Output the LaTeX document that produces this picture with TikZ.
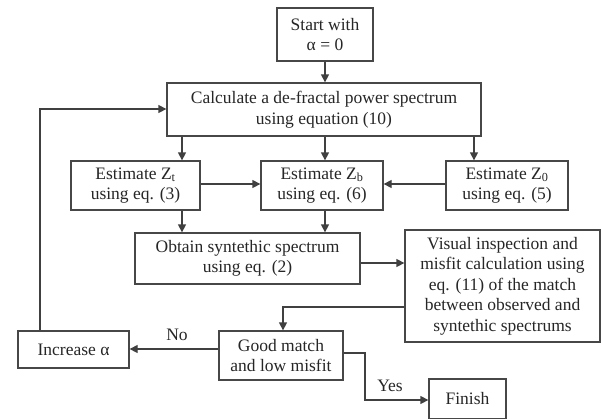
\documentclass[tikz,border=0pt]{standalone}
\usepackage{fontspec}
\setmainfont{Liberation Serif}
\usetikzlibrary{arrows.meta}
\begin{document}
\begin{tikzpicture}[x=1pt,y=-1pt,
  box/.style={draw=black!72, line width=1.3pt, inner sep=0pt, align=center,
    text=black!85, font=\fontsize{17.5}{20.5}\selectfont},
  lbl/.style={inner sep=0pt, text=black!85, font=\fontsize{17.5}{20.5}\selectfont},
  arr/.style={draw=black!75, line width=1.3pt, -{Triangle[length=8pt,width=8pt]}}]
\useasboundingbox (0,0) rectangle (601,418);
\fill[white] (0,0) rectangle (601,418);

\node[box, minimum width=96pt, minimum height=53pt] (start) at (325,34.5) {Start with\\α = 0};
\node[box, minimum width=314pt, minimum height=53pt] (calc) at (324,109.5) {Calculate a de-fractal power spectrum\\using equation (10)};
\node[box, minimum width=129pt, minimum height=49pt] (zt) at (135.5,185.5) {Estimate Z\textsubscript{t}\\using eq. (3)};
\node[box, minimum width=122pt, minimum height=49pt] (zb) at (322,185.5) {Estimate Z\textsubscript{b}\\using eq. (6)};
\node[box, minimum width=122pt, minimum height=49pt] (z0) at (507,185.5) {Estimate Z\textsubscript{0}\\using eq. (5)};
\node[box, minimum width=225pt, minimum height=51pt] (obt) at (247.5,258.5) {Obtain syntethic spectrum\\using eq. (2)};
\node[box, minimum width=195pt, minimum height=112pt] (vis) at (502.5,286) {Visual inspection and\\misfit calculation using\\eq. (11) of the match\\between observed and\\syntethic spectrums};
\node[box, minimum width=124pt, minimum height=49pt] (good) at (281,355.5) {Good match\\and low misfit};
\node[box, minimum width=111pt, minimum height=37pt] (inc) at (73.5,349.5) {Increase α};
\node[box, minimum width=77pt, minimum height=40pt] (fin) at (467.5,399) {Finish};

\node[lbl] (no) at (177,335) {No};
\node[lbl] (yes) at (390,386) {Yes};

\coordinate (xa) at (182,0);
\coordinate (xb) at (325,0);
\coordinate (xc) at (474,0);
\coordinate (xl) at (40,0);
\coordinate (xg) at (283,0);
\coordinate (xy) at (365,0);
\coordinate (ya) at (0,184);
\coordinate (yb) at (0,263);
\coordinate (yc) at (0,307);
\coordinate (yd) at (0,349);
\coordinate (ye) at (0,353);
\coordinate (yf) at (0,400);
\coordinate (yg) at (0,109);

\draw[arr] (start.south) -- (start.south |- calc.north);
\draw[arr] (calc.south -| xa) -- (zt.north -| xa);
\draw[arr] (calc.south -| xb) -- (zb.north -| xb);
\draw[arr] (calc.south -| xc) -- (z0.north -| xc);
\draw[arr] (zt.east |- ya) -- (zb.west |- ya);
\draw[arr] (z0.west |- ya) -- (zb.east |- ya);
\draw[arr] (zt.south -| xa) -- (obt.north -| xa);
\draw[arr] (zb.south -| xb) -- (obt.north -| xb);
\draw[arr] (obt.east |- yb) -- (vis.west |- yb);
\draw[arr] (vis.west |- yc) -| (good.north -| xg);
\draw[arr] (good.west |- yd) -- (inc.east |- yd);
\draw[arr] (good.east |- ye) -| (xy |- yf) -- (fin.west |- yf);
\draw[arr] (inc.north -| xl) |- (calc.west |- yg);
\end{tikzpicture}
\end{document}
